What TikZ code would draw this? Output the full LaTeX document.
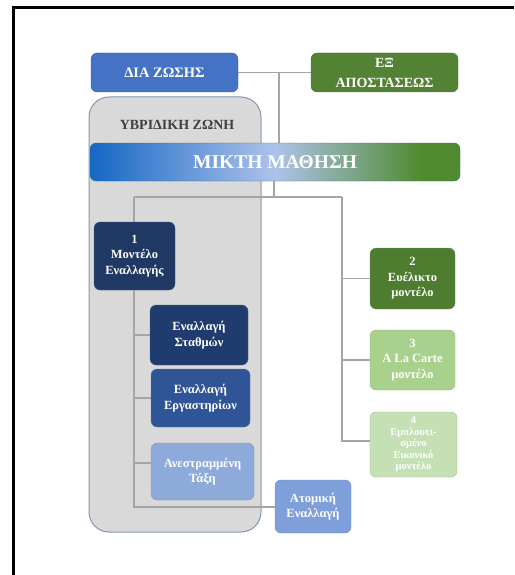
\documentclass[tikz,border=0pt]{standalone}
\usepackage{fontspec}
\setmainfont{Liberation Serif}
\usetikzlibrary{backgrounds}
\definecolor{lineGray}{HTML}{A5A5A5}
\definecolor{zoneFill}{HTML}{D9D9D9}
\definecolor{zoneEdge}{HTML}{8497B0}
\definecolor{blueMain}{HTML}{4472C4}
\definecolor{greenMain}{HTML}{548235}
\definecolor{navyDark}{HTML}{1F3864}
\definecolor{navyMid}{HTML}{203B6E}
\definecolor{blueMid}{HTML}{2F5597}
\definecolor{blueLight}{HTML}{8EAADB}
\definecolor{blueSoft}{HTML}{7F9FDA}
\definecolor{greenDark}{HTML}{4E7D2F}
\definecolor{greenLight}{HTML}{A9D18E}
\definecolor{greenPale}{HTML}{C5E0B4}
\definecolor{gradBlue}{HTML}{1567C4}
\definecolor{gradMid}{HTML}{AEC2EA}
\definecolor{gradGreen}{HTML}{4F8A2E}
% the band occupies the 25bp..75bp part of the shading
\pgfdeclarehorizontalshading{mixband}{100bp}{color(0bp)=(gradBlue); color(25bp)=(gradBlue); color(50bp)=(gradMid); color(70bp)=(gradGreen); color(100bp)=(gradGreen)}
\pgfdeclarelayer{zone}
\pgfdeclarelayer{links}
\pgfsetlayers{zone,links,main}
\tikzset{
  box/.style={rounded corners=6pt, inner sep=0pt, align=center, text=white,
    font=\bfseries\fontsize{12.5}{15.5}\selectfont},
  link/.style={draw=lineGray, line width=1.3pt},
}
\begin{document}
\begin{tikzpicture}[x=1pt,y=-1pt]
\useasboundingbox (0,0) rectangle (514,575);
% outer frame
\draw[line width=3pt] (13,575) -- (13,8) -- (514,8);

% hybrid zone panel
\begin{pgfonlayer}{zone}
\node[draw=zoneEdge, fill=zoneFill, line width=1pt, rounded corners=20pt,
  minimum width=172pt, minimum height=435pt, inner sep=0pt] (zone) at (175,314.5) {};
\end{pgfonlayer}
\node[font=\bfseries\fontsize{14}{16}\selectfont, text=black!75] (zonetitle) at (177,125) {ΥΒΡΙΔΙΚΗ ΖΩΝΗ};

% top level
\node[box, draw=blueMain!85!black, fill=blueMain, minimum width=147pt, minimum height=39pt,
  font=\bfseries\fontsize{14.5}{16}\selectfont] (dia) at (164.5,72.5) {ΔΙΑ ΖΩΣΗΣ};
\node[box, draw=greenMain!85!black, fill=greenMain, minimum width=147pt, minimum height=39pt,
  font=\bfseries\fontsize{14}{20}\selectfont] (ex) at (384.5,72.5) {ΕΞ\\ΑΠΟΣΤΑΣΕΩΣ};

% blended learning band
\node[box, draw=gradBlue!60!gradGreen, shading=mixband, minimum width=370pt, minimum height=38pt,
  font=\bfseries\fontsize{19.5}{22}\selectfont] (mix) at (275,162) {ΜΙΚΤΗ ΜΑΘΗΣΗ};

% rotation branch
\node[box, draw=navyDark!80!white, fill=navyDark, minimum width=81pt, minimum height=68pt] (rot) at (134.5,256) {1\\Μοντέλο\\Εναλλαγής};
\node[box, draw=navyMid!80!white, fill=navyMid, minimum width=98pt, minimum height=60pt] (stat) at (199,335) {Εναλλαγή\\Σταθμών};
\node[box, draw=blueMid!80!white, fill=blueMid, minimum width=99pt, minimum height=58pt] (lab) at (200.5,398) {Εναλλαγή\\Εργαστηρίων};
\node[box, draw=blueMid!60!white, fill=blueLight, minimum width=103pt, minimum height=57pt] (flip) at (202.5,471.5) {Ανεστραμμένη\\Τάξη};
\node[box, draw=blueMid!70!white, fill=blueSoft, minimum width=76pt, minimum height=53pt] (indiv) at (313,506.5) {Ατομική\\Εναλλαγή};

% other models
\node[box, draw=greenDark!80!white, fill=greenDark, minimum width=85pt, minimum height=61pt] (flex) at (412.5,278.5) {2\\Ευέλικτο\\μοντέλο};
\node[box, draw=greenMain!60!white, fill=greenLight, minimum width=85pt, minimum height=60pt] (carte) at (412.5,360) {3\\A La Carte\\μοντέλο};
\node[box, draw=greenMain!55!white, fill=greenPale, minimum width=87pt, minimum height=65pt,
  font=\bfseries\fontsize{10.5}{11.5}\selectfont] (virt) at (413.5,444.5) {4\\Εμπλουτι-\\σμένο\\Εικονικό\\μοντέλο};

% connectors
\coordinate (topjoin) at (279,72.5);
\coordinate (midtop) at (274,197);
\coordinate (leftbar) at (134,197);
\coordinate (rightbar) at (342,197);
\coordinate (leftend) at (134,507);
\coordinate (rightend) at (342,441);
\coordinate (flipjoin) at (134,463);
\begin{pgfonlayer}{links}
\draw[link] (dia.east) -- (ex.west);
\draw[link] (topjoin) -- (topjoin |- mix.north);
\draw[link] (mix.south -| midtop) -- (midtop);
\draw[link] (leftbar) -- (rightbar);
\draw[link] (leftbar) -- (leftend) -- (leftend -| indiv.west);
\draw[link] (rightbar) -- (rightend) -- (rightend -| virt.west);
\draw[link] (leftbar |- stat.west) -- (stat.west);
\draw[link] (leftbar |- lab.west) -- (lab.west);
\draw[link] (flipjoin) -- (flipjoin -| flip.west);
\draw[link] (rightbar |- flex.west) -- (flex.west);
\draw[link] (rightbar |- carte.west) -- (carte.west);
\end{pgfonlayer}
\end{tikzpicture}
\end{document}
